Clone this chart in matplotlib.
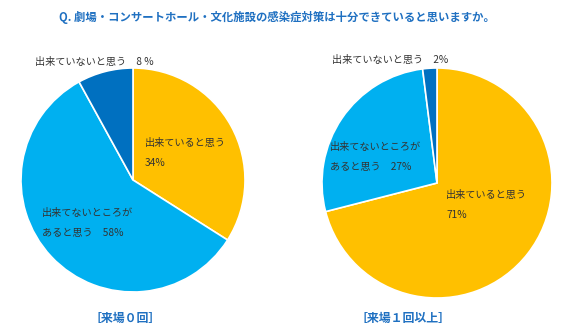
import matplotlib
matplotlib.use("Agg")
import matplotlib.pyplot as plt

plt.rcParams['font.family'] = ['Noto Sans CJK JP', 'DejaVu Sans']

title = "Q. 劇場・コンサートホール・文化施設の感染症対策は十分できていると思いますか。"
categories = ["出来ていると思う", "出来てないところがあると思う", "出来ていないと思う"]
values_0 = [34, 58, 8]
values_1 = [71, 27, 2]
group_labels = ["［来場０回］", "［来場１回以上］"]
colors = ["#FFC000", "#00B0F0", "#0070C0"]

W, H = 562, 335
fig = plt.figure(figsize=(W / 100, H / 100), dpi=100)
fig.patch.set_facecolor("white")

def add_pie(cx, cy, r, vals):
    ax = fig.add_axes([(cx - r) / W, (H - cy - r) / H, 2 * r / W, 2 * r / H])
    ax.pie(vals, colors=colors, startangle=90, counterclock=False,
           wedgeprops=dict(edgecolor="white", linewidth=1.2), radius=1.0)
    ax.set_xlim(-1.0, 1.0)
    ax.set_ylim(-1.0, 1.0)
    ax.set_aspect("auto")
    ax.axis("off")
    return ax

add_pie(133, 180, 112, values_0)
add_pie(437, 183, 115, values_1)

def ftext(px, py, s, **kw):
    fig.text(px / W, 1 - py / H, s, **kw)

lab = dict(fontsize=7.3, color="#333333", va="center", ha="left")
# left pie
ftext(35, 62, f"出来ていないと思う　{values_0[2]} %", **lab)
ftext(145, 143, "出来ていると思う", **lab)
ftext(145, 163, f"{values_0[0]}%", **lab)
ftext(42, 213, "出来てないところが", **lab)
ftext(42, 233, f"あると思う　{values_0[1]}%", **lab)
# right pie
ftext(332, 60, f"出来ていないと思う　{values_1[2]}%", **lab)
ftext(330, 147, "出来てないところが", **lab)
ftext(330, 167, f"あると思う　{values_1[1]}%", **lab)
ftext(446, 195, "出来ていると思う", **lab)
ftext(446, 215, f"{values_1[0]}%", **lab)

ftext(277, 17, title, fontsize=8.2, fontweight="bold", color="#1F70C1",
      ha="center", va="center")
ftext(125, 318, group_labels[0], fontsize=8.6, fontweight="bold", color="#1F70C1",
      ha="center", va="center")
ftext(403, 318, group_labels[1], fontsize=8.6, fontweight="bold", color="#1F70C1",
      ha="center", va="center")

fig.savefig("out.png", dpi=100, facecolor="white")
